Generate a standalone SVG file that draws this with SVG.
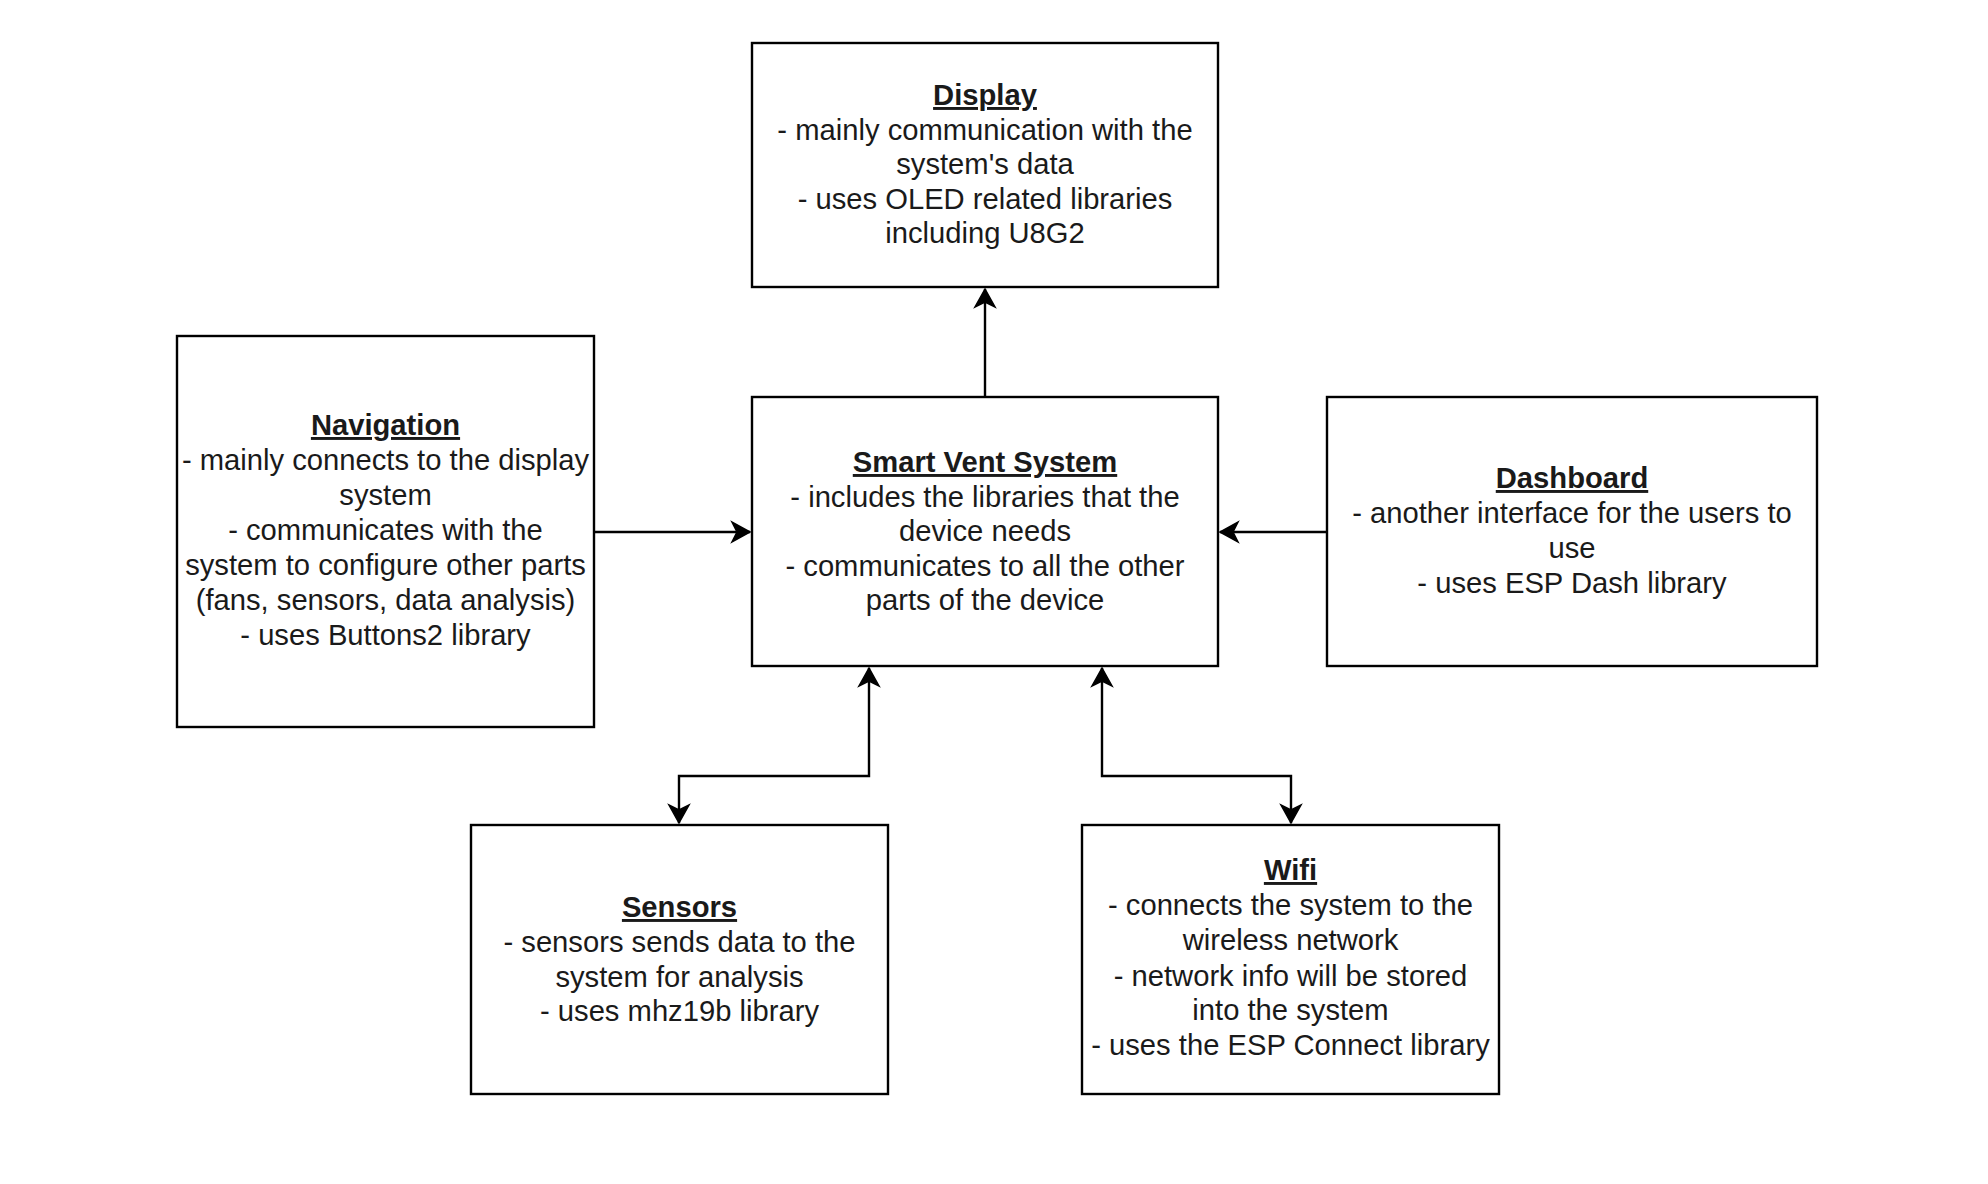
<svg xmlns="http://www.w3.org/2000/svg" width="1988" height="1184" viewBox="0 0 1988 1184">
<style>
.box{fill:#fff;stroke:#000;stroke-width:2.4}
.t{font-family:"Liberation Sans",Arial,sans-serif;font-size:29.2px;fill:#1a1a1a;text-anchor:middle}
.h{font-weight:bold;text-decoration:underline}
.c{fill:none;stroke:#000;stroke-width:2.4}
</style>
<defs>
<marker id="arr" markerUnits="userSpaceOnUse" viewBox="-20 -12 22 24" refX="0" refY="0" markerWidth="22" markerHeight="24" orient="auto-start-reverse">
<path d="M0,0 L-18,-10 L-13,0 L-18,10 Z" fill="#000" stroke="#000" stroke-width="1.5" stroke-linejoin="miter"/>
</marker>
</defs>
<rect width="1988" height="1184" fill="#fff"/>
<g id="connectors">
<path class="c" d="M985,397 V289" marker-end="url(#arr)"/>
<path class="c" d="M594,532 H750" marker-end="url(#arr)"/>
<path class="c" d="M1327,532 H1220" marker-end="url(#arr)"/>
<path class="c" d="M869,668 V776 H679 V823" marker-start="url(#arr)" marker-end="url(#arr)"/>
<path class="c" d="M1102,668 V776 H1291 V823" marker-start="url(#arr)" marker-end="url(#arr)"/>
</g>
<g id="display">
<rect class="box" x="752" y="43" width="466" height="244"/>
<text class="t h" x="985" y="105">Display</text>
<text class="t" x="985" y="140">- mainly communication with the</text>
<text class="t" x="985" y="174">system's data</text>
<text class="t" x="985" y="209">- uses OLED related libraries</text>
<text class="t" x="985" y="243">including U8G2</text>
</g>
<g id="navigation">
<rect class="box" x="177" y="336" width="417" height="391"/>
<text class="t h" x="385.5" y="435">Navigation</text>
<text class="t" x="385.5" y="470">- mainly connects to the display</text>
<text class="t" x="385.5" y="505">system</text>
<text class="t" x="385.5" y="540">- communicates with the</text>
<text class="t" x="385.5" y="575">system to configure other parts</text>
<text class="t" x="385.5" y="610">(fans, sensors, data analysis)</text>
<text class="t" x="385.5" y="645">- uses Buttons2 library</text>
</g>
<g id="smart-vent-system">
<rect class="box" x="752" y="397" width="466" height="269"/>
<text class="t h" x="985" y="472">Smart Vent System</text>
<text class="t" x="985" y="506.5">- includes the libraries that the</text>
<text class="t" x="985" y="541">device needs</text>
<text class="t" x="985" y="575.5">- communicates to all the other</text>
<text class="t" x="985" y="610">parts of the device</text>
</g>
<g id="dashboard">
<rect class="box" x="1327" y="397" width="490" height="269"/>
<text class="t h" x="1572" y="488">Dashboard</text>
<text class="t" x="1572" y="523">- another interface for the users to</text>
<text class="t" x="1572" y="558">use</text>
<text class="t" x="1572" y="593">- uses ESP Dash library</text>
</g>
<g id="sensors">
<rect class="box" x="471" y="825" width="417" height="269"/>
<text class="t h" x="679.5" y="917">Sensors</text>
<text class="t" x="679.5" y="952">- sensors sends data to the</text>
<text class="t" x="679.5" y="987">system for analysis</text>
<text class="t" x="679.5" y="1021">- uses mhz19b library</text>
</g>
<g id="wifi">
<rect class="box" x="1082" y="825" width="417" height="269"/>
<text class="t h" x="1290.5" y="880">Wifi</text>
<text class="t" x="1290.5" y="915">- connects the system to the</text>
<text class="t" x="1290.5" y="950">wireless network</text>
<text class="t" x="1290.5" y="986">- network info will be stored</text>
<text class="t" x="1290.5" y="1020">into the system</text>
<text class="t" x="1290.5" y="1055">- uses the ESP Connect library</text>
</g>
</svg>
